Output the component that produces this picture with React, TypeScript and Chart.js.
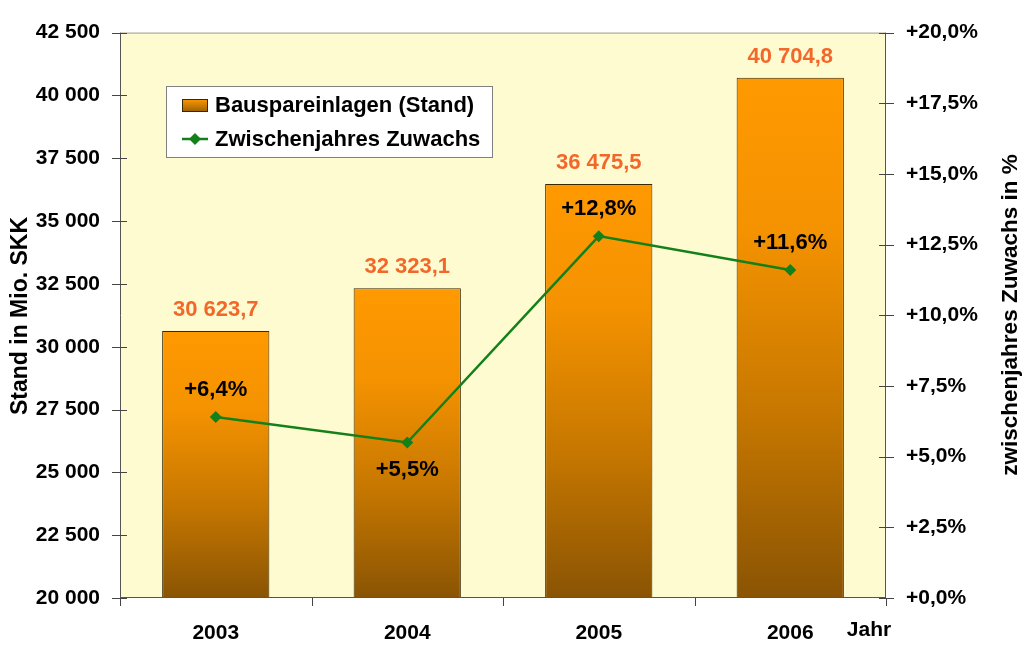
import React, { useEffect, useRef } from "react";
import { Chart, registerables } from "chart.js";

Chart.register(...registerables);

const years = ["2003", "2004", "2005", "2006"];
const standValues = [30623.7, 32323.1, 36475.5, 40704.8];
const growthValues = [6.4, 5.5, 12.8, 11.6];
const standLabels = ["30 623,7", "32 323,1", "36 475,5", "40 704,8"];
const growthLabels = ["+6,4%", "+5,5%", "+12,8%", "+11,6%"];
const growthLabelBelow = [false, true, false, false];
const legendLabels = ["Bauspareinlagen (Stand)", "Zwischenjahres Zuwachs"];
const leftTitle = "Stand in Mio. SKK";
const rightTitle = "zwischenjahres Zuwachs in %";
const xTitle = "Jahr";

const FONT = "'Liberation Sans', Arial, sans-serif";
const GREEN = "#13801a";
const ORANGE_TXT = "#f2682a";

const fmtThousands = (v: number) => {
  const s = Math.round(v).toString();
  return s.replace(/\B(?=(\d{3})+(?!\d))/g, " ");
};

const decorPlugin = {
  id: "decor",
  beforeDraw(chart: any) {
    const { ctx, chartArea: a } = chart;
    ctx.save();
    ctx.fillStyle = "#ffffff";
    ctx.fillRect(0, 0, chart.width, chart.height);
    ctx.fillStyle = "#fffbd0";
    ctx.fillRect(a.left, a.top, a.right - a.left, a.bottom - a.top);
    ctx.restore();
  },
  afterDatasetsDraw(chart: any) {
    const { ctx, chartArea: a, scales } = chart;
    ctx.save();
    // plot border
    ctx.strokeStyle = "#9a9a9a";
    ctx.lineWidth = 1;
    ctx.beginPath();
    ctx.moveTo(a.left + 0.5, a.top + 0.5);
    ctx.lineTo(a.right - 0.5, a.top + 0.5);
    ctx.stroke();
    ctx.strokeStyle = "#555555";
    ctx.beginPath();
    ctx.moveTo(a.left + 0.5, a.top);
    ctx.lineTo(a.left + 0.5, a.bottom);
    ctx.moveTo(a.right - 0.5, a.top);
    ctx.lineTo(a.right - 0.5, a.bottom);
    ctx.moveTo(a.left, a.bottom - 0.5);
    ctx.lineTo(a.right, a.bottom - 0.5);
    ctx.stroke();
    // ticks
    ctx.strokeStyle = "#444444";
    ctx.beginPath();
    scales.y.ticks.forEach((t: any) => {
      const y = Math.round(scales.y.getPixelForValue(t.value)) + 0.5;
      ctx.moveTo(a.left - 8, y);
      ctx.lineTo(a.left + 7, y);
    });
    scales.y1.ticks.forEach((t: any) => {
      const y = Math.round(scales.y1.getPixelForValue(t.value)) + 0.5;
      ctx.moveTo(a.right - 7, y);
      ctx.lineTo(a.right + 8, y);
    });
    const n = years.length;
    const cw = (a.right - a.left) / n;
    for (let i = 0; i <= n; i++) {
      const x = Math.round(a.left + i * cw) + 0.5;
      ctx.moveTo(x, a.bottom);
      ctx.lineTo(x, a.bottom + 8);
    }
    ctx.stroke();

    // value labels
    ctx.font = `bold 22px ${FONT}`;
    ctx.textAlign = "center";
    ctx.textBaseline = "middle";
    const barMeta = chart.getDatasetMeta(0);
    barMeta.data.forEach((el: any, i: number) => {
      ctx.fillStyle = ORANGE_TXT;
      ctx.fillText(standLabels[i], el.x, el.y - 21);
    });
    const lineMeta = chart.getDatasetMeta(1);
    lineMeta.data.forEach((el: any, i: number) => {
      ctx.fillStyle = "#000000";
      ctx.fillText(growthLabels[i], el.x, growthLabelBelow[i] ? el.y + 27 : el.y - 27);
    });

    // legend
    const lx = 166, ly = 86, lw = 326, lh = 71;
    ctx.fillStyle = "#ffffff";
    ctx.fillRect(lx, ly, lw, lh);
    ctx.lineWidth = 1;
    ctx.strokeStyle = "#808080";
    ctx.strokeRect(lx + 0.5, ly + 0.5, lw, lh);
    const g = ctx.createLinearGradient(0, 99, 0, 112);
    g.addColorStop(0, "#ff9900");
    g.addColorStop(1, "#9a5f05");
    ctx.fillStyle = g;
    ctx.fillRect(182, 99, 26, 13);
    ctx.strokeStyle = "#3a2800";
    ctx.strokeRect(182.5, 99.5, 25, 12);
    ctx.strokeStyle = GREEN;
    ctx.lineWidth = 2.5;
    ctx.beginPath();
    ctx.moveTo(182, 139);
    ctx.lineTo(208, 139);
    ctx.stroke();
    ctx.fillStyle = GREEN;
    ctx.beginPath();
    ctx.moveTo(195, 133);
    ctx.lineTo(201, 139);
    ctx.lineTo(195, 145);
    ctx.lineTo(189, 139);
    ctx.closePath();
    ctx.fill();
    ctx.fillStyle = "#000000";
    ctx.textAlign = "left";
    ctx.font = `bold 22px ${FONT}`;
    ctx.fillText(legendLabels[0], 215, 106);
    ctx.fillText(legendLabels[1], 215, 140);

    // titles
    ctx.font = `bold 23px ${FONT}`;
    ctx.textAlign = "center";
    ctx.save();
    ctx.translate(21, 316);
    ctx.rotate(-Math.PI / 2);
    ctx.fillText(leftTitle, 0, 0);
    ctx.restore();
    ctx.save();
    ctx.font = `bold 22.5px ${FONT}`;
    ctx.translate(1011, 315);
    ctx.rotate(-Math.PI / 2);
    ctx.fillText(rightTitle, 0, 0);
    ctx.restore();
    ctx.font = `bold 21px ${FONT}`;
    ctx.fillText(xTitle, 869, 630);
    ctx.restore();
  },
};

export default function App() {
  const ref = useRef<HTMLCanvasElement>(null);
  useEffect(() => {
    if (!ref.current) return;
    const chart = new Chart(ref.current, {
      type: "bar",
      data: {
        labels: years,
        datasets: [
          {
            type: "bar",
            label: legendLabels[0],
            data: standValues,
            yAxisID: "y",
            order: 1,
            barPercentage: 0.56,
            categoryPercentage: 1,
            borderColor: "#3a2800",
            borderWidth: 1,
            borderSkipped: false,
            backgroundColor: (c: any) => {
              const ch = c.chart;
              const a = ch.chartArea;
              if (!a || !ch.scales || !ch.scales.y) return "#ff9900";
              const v = standValues[c.dataIndex];
              const top = ch.scales.y.getPixelForValue(v);
              const g = ch.ctx.createLinearGradient(0, top, 0, a.bottom);
              g.addColorStop(0, "#ff9900");
              g.addColorStop(0.3, "#f49200");
              g.addColorStop(0.65, "#c67700");
              g.addColorStop(1, "#8a5404");
              return g;
            },
          },
          {
            type: "line",
            label: legendLabels[1],
            data: growthValues,
            yAxisID: "y1",
            order: 0,
            borderColor: GREEN,
            backgroundColor: GREEN,
            borderWidth: 2.5,
            pointStyle: "rectRot",
            pointRadius: 6,
            pointBorderWidth: 0,
            tension: 0,
          },
        ],
      },
      options: {
        animation: false,
        responsive: false,
        maintainAspectRatio: false,
        layout: { padding: { top: 31, left: 0, right: 0, bottom: 0 } },
        plugins: { legend: { display: false }, tooltip: { enabled: false } },
        scales: {
          x: {
            type: "category",
            offset: true,
            grid: { display: false, drawTicks: false },
            border: { display: false },
            ticks: {
              color: "#000000",
              font: { family: FONT, size: 21, weight: "bold" },
              padding: 23,
            },
            afterFit: (s: any) => {
              s.height = 58;
            },
          },
          y: {
            position: "left",
            min: 20000,
            max: 42500,
            grid: { display: false, drawTicks: false },
            border: { display: false },
            ticks: {
              stepSize: 2500,
              autoSkip: false,
              color: "#000000",
              font: { family: FONT, size: 21, weight: "bold" },
              padding: 20,
              callback: (v: any) => fmtThousands(Number(v)),
            },
            afterFit: (s: any) => {
              s.width = 120;
            },
          },
          y1: {
            position: "right",
            min: 0,
            max: 20,
            grid: { display: false, drawTicks: false },
            border: { display: false },
            ticks: {
              stepSize: 2.5,
              autoSkip: false,
              color: "#000000",
              font: { family: FONT, size: 21, weight: "bold" },
              padding: 20,
              callback: (v: any) => "+" + Number(v).toFixed(1).replace(".", ",") + "%",
            },
            afterFit: (s: any) => {
              s.width = 137;
            },
          },
        },
      },
      plugins: [decorPlugin],
    } as any);
    return () => chart.destroy();
  }, []);
  return (
    <div style={{ position: "fixed", left: 0, top: 0, width: 1023, height: 656, background: "#fff" }}>
      <canvas ref={ref} width={1023} height={656} style={{ display: "block", width: 1023, height: 656 }} />
    </div>
  );
}
